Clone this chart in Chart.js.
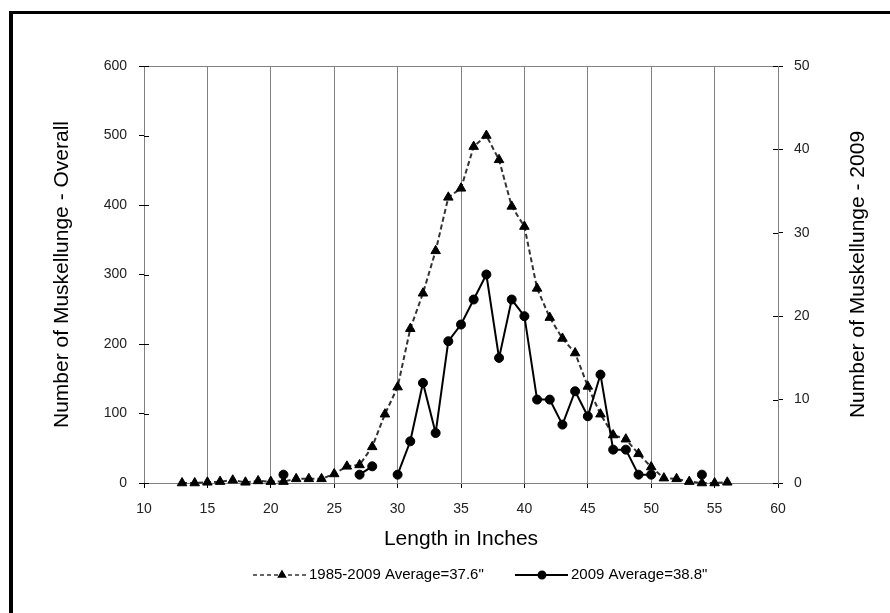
<!DOCTYPE html>
<html>
<head>
<meta charset="utf-8">
<script src="https://cdn.jsdelivr.net/npm/chart.js@4.4.0/dist/chart.umd.min.js"></script>
<style>
  html, body { margin: 0; padding: 0; background: #fff; }
  #wrap { position: relative; width: 890px; height: 613px; overflow: hidden; }
</style>
</head>
<body>
<div id="wrap"><canvas id="chart-muskie" width="890" height="613"></canvas></div>
<script>
// Length classes (inches)
const lengths = [13, 14, 15, 16, 17, 18, 19, 20, 21, 22, 23, 24, 25, 26, 27, 28, 29, 30,
                 31, 32, 33, 34, 35, 36, 37, 38, 39, 40, 41, 42, 43, 44, 45, 46, 47, 48,
                 49, 50, 51, 52, 53, 54, 55, 56];

// Overall 1985-2009 counts (left axis)
const countsOverall = [0, 0, 1, 2, 4, 1, 3, 2, 2, 6, 6, 6, 13, 24, 26, 52, 99, 138,
                       222, 273, 334, 411, 424, 484, 500, 465, 398, 369, 280, 238, 208, 187, 139, 99, 69, 63,
                       42, 23, 7, 6, 2, 0, 0, 1];

// 2009 counts (right axis), null = no fish in that class
const counts2009 = [null, null, null, null, null, null, null, null, 1, null, null, null, null, null, 1, 2, null, 1,
                    5, 12, 6, 17, 19, 22, 25, 15, 22, 20, 10, 10, 7, 11, 8, 13, 4, 4,
                    1, 1, null, null, null, 1, null, null];

// Axis settings
const xTicks = { min: 10, max: 60, step: 5 };
const yLeftTicks = { min: 0, max: 600, step: 100 };
const yRightTicks = { min: 0, max: 50, step: 10 };

const legendLabels = ['1985-2009 Average=37.6"', '2009 Average=38.8"'];
const axisTitles = {
    x: 'Length in Inches',
    left: 'Number of Muskellunge - Overall',
    right: 'Number of Muskellunge - 2009'
};

const FONT = "'Liberation Sans', Arial, sans-serif";
const GRAY = '#808080';

Chart.defaults.font.family = FONT;
Chart.defaults.color = '#222';

// Frame, top border, crossing ticks, right title and legend
const extrasPlugin = {
    id: 'extras',
    beforeDraw(chart) {
        const ctx = chart.ctx;
        ctx.save();
        ctx.fillStyle = '#fff';
        ctx.fillRect(0, 0, chart.width, chart.height);
        ctx.fillStyle = '#000';
        ctx.fillRect(9, 11, 4, chart.height - 11);
        ctx.fillRect(9, 11, chart.width - 9, 3);
        ctx.restore();
    },
    afterDraw(chart) {
        const ctx = chart.ctx;
        const area = chart.chartArea;
        const yL = chart.scales.y;
        const yR = chart.scales.y2;
        ctx.save();

        ctx.lineWidth = 1;
        ctx.strokeStyle = GRAY;
        ctx.beginPath();
        ctx.moveTo(area.left, area.top + 0.5);
        ctx.lineTo(area.right, area.top + 0.5);
        ctx.stroke();

        ctx.strokeStyle = '#000';
        ctx.beginPath();
        yL.ticks.forEach(t => {
            const py = Math.round(yL.getPixelForValue(t.value)) + 0.5;
            ctx.moveTo(area.left, py);
            ctx.lineTo(area.left + 5, py);
        });
        yR.ticks.forEach(t => {
            const py = Math.round(yR.getPixelForValue(t.value)) + 0.5;
            ctx.moveTo(area.right, py);
            ctx.lineTo(area.right - 5, py);
        });
        ctx.stroke();

        // right axis title reads bottom to top
        ctx.save();
        ctx.translate(858, (area.top + area.bottom) / 2);
        ctx.rotate(-Math.PI / 2);
        ctx.fillStyle = '#000';
        ctx.font = '21px ' + FONT;
        ctx.textAlign = 'center';
        ctx.textBaseline = 'middle';
        ctx.fillText(axisTitles.right, 0, 0);
        ctx.restore();

        // legend
        const ly = 575;
        ctx.font = '15px ' + FONT;
        ctx.textAlign = 'left';
        ctx.textBaseline = 'middle';

        ctx.strokeStyle = '#333';
        ctx.lineWidth = 1.5;
        ctx.setLineDash([4, 3]);
        ctx.beginPath();
        ctx.moveTo(253, ly);
        ctx.lineTo(307, ly);
        ctx.stroke();
        ctx.setLineDash([]);
        ctx.fillStyle = '#000';
        ctx.strokeStyle = '#000';
        Chart.helpers.drawPoint(ctx, { pointStyle: 'triangle', radius: 4, rotation: 0, borderWidth: 1 }, 282, ly);
        ctx.fillText(legendLabels[0], 309, ly);

        ctx.lineWidth = 2;
        ctx.beginPath();
        ctx.moveTo(515, ly);
        ctx.lineTo(568, ly);
        ctx.stroke();
        Chart.helpers.drawPoint(ctx, { pointStyle: 'circle', radius: 3.5, rotation: 0, borderWidth: 1 }, 542, ly);
        ctx.fillStyle = '#000';
        ctx.fillText(legendLabels[1], 571, ly);

        ctx.restore();
    }
};

const dataOverall = lengths.map((x, i) => ({ x: x, y: countsOverall[i] }));
const data2009 = lengths.map((x, i) => ({ x: x, y: counts2009[i] }));

new Chart(document.getElementById('chart-muskie'), {
    type: 'line',
    data: {
        datasets: [
            {
                label: legendLabels[1],
                data: data2009,
                yAxisID: 'y2',
                borderColor: '#000',
                borderWidth: 2,
                pointStyle: 'circle',
                pointRadius: 4.5,
                pointBackgroundColor: '#000',
                pointBorderColor: '#000',
                pointBorderWidth: 1,
                spanGaps: false,
                clip: false,
                order: 0
            },
            {
                label: legendLabels[0],
                data: dataOverall,
                yAxisID: 'y',
                borderColor: '#333',
                borderWidth: 2,
                borderDash: [5, 3],
                pointStyle: 'triangle',
                pointRadius: 5.5,
                pointBackgroundColor: '#000',
                pointBorderColor: '#000',
                pointBorderWidth: 1,
                clip: false,
                order: 1
            }
        ]
    },
    options: {
        responsive: false,
        animation: false,
        devicePixelRatio: 1,
        layout: { padding: { top: 66, left: 0, right: 0, bottom: 0 } },
        plugins: {
            legend: { display: false },
            tooltip: { enabled: false }
        },
        scales: {
            x: {
                type: 'linear',
                min: xTicks.min,
                max: xTicks.max,
                afterFit: (scale) => { scale.height = 130; },
                ticks: {
                    stepSize: xTicks.step,
                    autoSkip: false,
                    maxRotation: 0,
                    padding: 13,
                    color: '#222',
                    font: { size: 14 }
                },
                grid: { color: GRAY, lineWidth: 1, tickLength: 5, tickColor: '#000' },
                border: { color: GRAY, width: 1 },
                title: {
                    display: true,
                    text: axisTitles.x,
                    color: '#000',
                    font: { size: 21 },
                    padding: { top: 0, bottom: 61 }
                }
            },
            y: {
                position: 'left',
                min: yLeftTicks.min,
                max: yLeftTicks.max,
                afterFit: (scale) => { scale.width = 144; },
                ticks: {
                    stepSize: yLeftTicks.step,
                    padding: 12,
                    color: '#222',
                    font: { size: 14 }
                },
                grid: { drawOnChartArea: false, tickLength: 5, tickColor: '#000' },
                border: { color: GRAY, width: 1 },
                title: {
                    display: true,
                    text: axisTitles.left,
                    color: '#000',
                    font: { size: 21 },
                    padding: { top: 50, bottom: 0 }
                }
            },
            y2: {
                position: 'right',
                min: yRightTicks.min,
                max: yRightTicks.max,
                afterFit: (scale) => { scale.width = 112; },
                ticks: {
                    stepSize: yRightTicks.step,
                    padding: 11,
                    color: '#222',
                    font: { size: 14 }
                },
                grid: { drawOnChartArea: false, tickLength: 5, tickColor: '#000' },
                border: { color: GRAY, width: 1 }
            }
        }
    },
    plugins: [extrasPlugin]
});
</script>
</body>
</html>
